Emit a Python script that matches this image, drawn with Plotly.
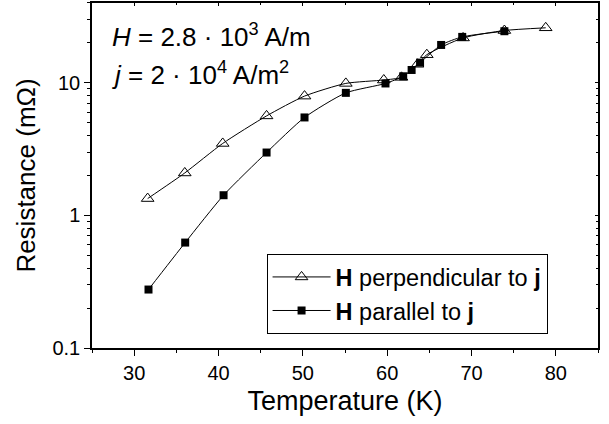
import plotly.graph_objects as go

# Data
temp_perp = [31.6, 36.0, 40.5, 45.7, 50.2, 55.1, 59.6, 61.7, 63.6, 64.7, 69.0, 73.9, 78.8]
res_perp = [1.34, 2.09, 3.49, 5.63, 7.94, 9.9, 10.5, 11.0, 13.8, 16.3, 21.8, 24.8, 26.0]

temp_par = [31.7, 36.05, 40.6, 45.7, 50.2, 55.1, 59.8, 61.9, 62.9, 63.9, 66.4, 68.9, 73.9]
res_par = [0.276, 0.624, 1.42, 2.98, 5.48, 8.40, 9.89, 11.2, 12.5, 14.2, 19.3, 22.2, 24.5]

x_ticks = [30, 40, 50, 60, 70, 80]
y_ticks = [0.1, 1, 10]
y_ticktext = ["0.1", "1", "10"]

FONT = "Liberation Sans, Arial, sans-serif"

fig = go.Figure()
fig.add_trace(go.Scatter(
    x=temp_perp, y=res_perp, mode="lines+markers",
    name="<b>H</b> perpendicular to <b>j</b>",
    line=dict(color="black", width=1, shape="spline", smoothing=0.6),
    marker=dict(symbol="triangle-up-open", size=11, color="black", line=dict(width=1)),
))
fig.add_trace(go.Scatter(
    x=temp_par, y=res_par, mode="lines+markers",
    name="<b>H</b> parallel to <b>j</b>",
    line=dict(color="black", width=1, shape="spline", smoothing=0.6),
    marker=dict(symbol="square", size=8, color="black"),
))
# invisible trace on mirrored axes so they are drawn with inside ticks
fig.add_trace(go.Scatter(
    x=temp_par, y=res_par, xaxis="x2", yaxis="y2", mode="markers",
    marker=dict(opacity=0), showlegend=False, hoverinfo="skip",
))

fig.update_layout(
    width=609, height=424,
    margin=dict(l=92, r=11, t=3, b=76),
    paper_bgcolor="white", plot_bgcolor="white",
    font=dict(family=FONT, color="black", size=20),
    showlegend=True,
    legend=dict(
        x=0.345, y=0.272, xanchor="left", yanchor="top",
        bordercolor="black", borderwidth=1, bgcolor="white",
        font=dict(family=FONT, size=23.5, color="black"),
        tracegroupgap=0, itemwidth=58,
    ),
    xaxis=dict(
        range=[25, 85], tickvals=x_ticks, ticks="outside", ticklen=6, tickwidth=1,
        tickcolor="black", showline=True, linecolor="black", linewidth=1.5,
        showgrid=False, zeroline=False, automargin=False,
        minor=dict(dtick=5, tick0=25, ticks="outside", ticklen=3.5, tickwidth=1, tickcolor="black"),
        title=dict(text="Temperature (K)", font=dict(size=27), standoff=8),
        tickfont=dict(size=20),
    ),
    yaxis=dict(
        type="log", range=[-1, 1.602], tickvals=y_ticks, ticktext=y_ticktext,
        ticks="outside", ticklen=6, tickwidth=1, tickcolor="black",
        showline=True, linecolor="black", linewidth=1.5,
        showgrid=False, zeroline=False, automargin=False,
        minor=dict(dtick="D1", ticks="outside", ticklen=3.5, tickwidth=1, tickcolor="black"),
        title=dict(text="Resistance (mΩ)", font=dict(size=26), standoff=9),
        tickfont=dict(size=20),
    ),
    xaxis2=dict(
        overlaying="x", side="top", range=[25, 85], tickvals=x_ticks,
        ticks="inside", ticklen=3, tickwidth=1, tickcolor="black",
        showticklabels=False, showline=True, linecolor="black", linewidth=2,
        showgrid=False, zeroline=False, automargin=False,
        minor=dict(dtick=5, tick0=25, ticks="inside", ticklen=2, tickwidth=1, tickcolor="black"),
    ),
    yaxis2=dict(
        overlaying="y", side="right", type="log", range=[-1, 1.602], tickvals=y_ticks,
        ticks="inside", ticklen=3, tickwidth=1, tickcolor="black",
        showticklabels=False, showline=True, linecolor="black", linewidth=2,
        showgrid=False, zeroline=False, automargin=False,
        minor=dict(dtick="D1", ticks="inside", ticklen=2, tickwidth=1, tickcolor="black"),
    ),
    annotations=[
        dict(xref="paper", yref="paper", x=0.036, y=0.958, xanchor="left", yanchor="top",
             text="<i>H</i> = 2.8 · 10<sup>3</sup> A/m", showarrow=False,
             font=dict(family=FONT, size=26, color="black")),
        dict(xref="paper", yref="paper", x=0.036, y=0.849, xanchor="left", yanchor="top",
             text="<i>j</i> = 2 · 10<sup>4</sup> A/m<sup>2</sup>", showarrow=False,
             font=dict(family=FONT, size=26, color="black")),
    ],
)

fig.write_html("out.html", config={"displayModeBar": False},
               post_script="document.body.style.margin='0';")
